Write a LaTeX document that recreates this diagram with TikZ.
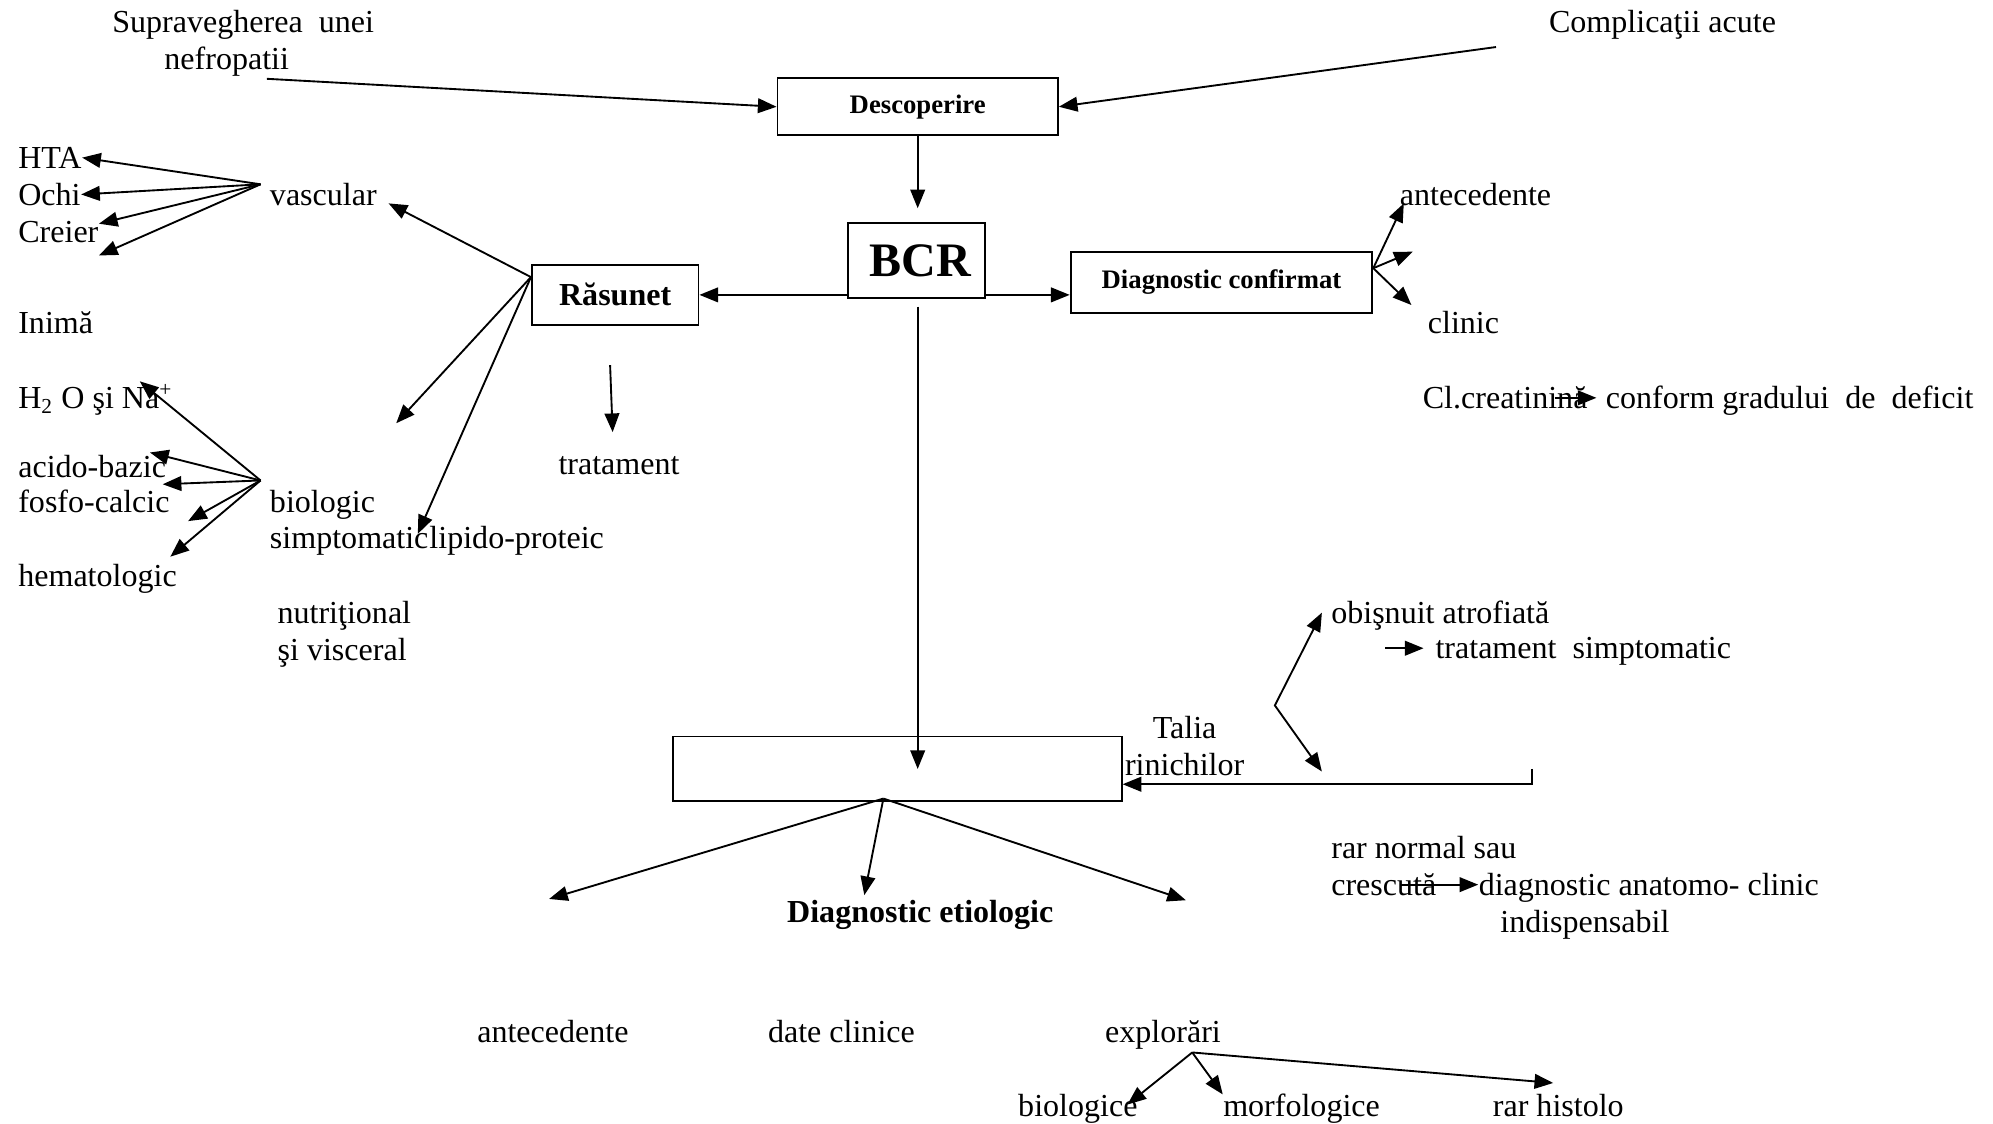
\documentclass[tikz,border=0pt]{standalone}
\usepackage{fontspec}
\setmainfont{Liberation Serif}
\usetikzlibrary{arrows.meta, positioning, calc}

\begin{document}
\begin{tikzpicture}[x=0.476pt, y=-0.476pt,
        txt/.style={font=\fontsize{12}{13.8}\selectfont, inner sep=0pt, text height=10pt, text depth=2pt},
        box/.style={draw, line width=0.7pt, inner sep=0pt, align=center},
        arr/.style={-{Triangle[length=7pt, width=5.5pt]}, line width=0.7pt},
        biarr/.style={{Triangle[length=7pt, width=5.5pt]}-{Triangle[length=7pt, width=5.5pt]}, line width=0.7pt}]
        \useasboundingbox (0,0) rectangle (1568,884);

        % Boxes
        \node[box, minimum width=105pt, minimum height=21.4pt, font=\fontsize{10}{12}\selectfont\bfseries] (desc) at (722,84) {Descoperire};
        \node[box, minimum width=51.4pt, minimum height=28pt, font=\fontsize{18}{20}\selectfont\bfseries] (bcr) at (721,205) {\,BCR};
        \node[box, minimum width=62.4pt, minimum height=22.4pt, font=\fontsize{12}{14}\selectfont\bfseries] (ras) at (484,232) {Răsunet};
        \node[box, minimum width=113pt, minimum height=22.8pt, font=\fontsize{10}{12}\selectfont\bfseries] (dc) at (961,222) {Diagnostic confirmat};
        \node[box, minimum width=168pt, minimum height=24.3pt] (eti) at (706,605) {};

        % Top sources
        \node[txt, anchor=west, align=left, text height=, text depth=] (supra) at (88,34) {Supravegherea~ unei\\\hspace*{19.5pt}nefropatii};
        \node[txt] (compl) at (1308,17) {Complicaţii acute};

        % Left column
        \node[txt, anchor=west] (hta) at (14,124) {HTA};
        \node[txt, anchor=west] (ochi) at (14,153) {Ochi};
        \node[txt, anchor=west] (creier) at (14,182) {Creier};
        \node[txt, anchor=west] (inima) at (14,254) {Inimă};
        \node[txt, anchor=west] (h2o) at (14,313) {H\textsubscript{2} O şi Na\textsuperscript{+}};
        \node[txt, anchor=west] (acido) at (14,367) {acido-bazic};
        \node[txt, anchor=west] (fosfo) at (14,395) {fosfo-calcic};
        \node[txt, anchor=west] (hema) at (14,453) {hematologic};
        \node[txt, anchor=west] (vascular) at (212,153) {vascular};
        \node[txt, anchor=west] (biologic) at (212,395) {biologic};
        \node[txt, anchor=west] (simpt) at (212,423) {simptomatic};
        \node[txt, right=0pt of simpt] (lipido) {lipido-proteic};
        \node[txt, anchor=west, align=left, text height=, text depth=] (nutr) at (218,499) {nutriţional\\şi visceral};
        \node[txt] (trat) at (487,365) {tratament};

        % Right column
        \node[txt, anchor=west] (antec1) at (1101,153) {antecedente};
        \node[txt, anchor=west] (clinic) at (1123,254) {clinic};
        \node[txt, anchor=west] (creat) at (1119,313) {Cl.creatinină};
        \node[txt, anchor=west] (conform) at (1263,313) {conform gradului~ de~ deficit};
        \node[txt, anchor=west] (obis) at (1047,482) {obişnuit atrofiată};
        \node[txt, anchor=west] (tsimp) at (1129,510) {tratament~ simptomatic};
        \node[txt, align=center, text height=, text depth=] (talia) at (932,587) {Talia\\rinichilor};
        \node[txt, anchor=west] (rarn) at (1047,667) {rar normal sau};
        \node[txt, anchor=west] (cresc) at (1047,696) {crescută};
        \node[txt, anchor=west] (danat) at (1163,696) {diagnostic anatomo- clinic};
        \node[txt, anchor=west] (indisp) at (1180,725) {indispensabil};

        % Bottom
        \node[txt, font=\fontsize{12}{13.8}\selectfont\bfseries] (deti) at (724,717) {Diagnostic etiologic};
        \node[txt] (antec2) at (435,812) {antecedente};
        \node[txt] (dclin) at (662,812) {date clinice};
        \node[txt] (expl) at (915,812) {explorări};
        \node[txt] (biol) at (848,870) {biologice};
        \node[txt] (morf) at (1024,870) {morfologice};
        \node[txt] (rarh) at (1226,870) {rar histolo};

        % Descoperire and BCR
        \coordinate (supraend) at (210,62);
        \coordinate (complend) at (1177,37);
        \draw[arr] (supraend) -- (desc.west);
        \draw[arr] (complend) -- (desc.east);
        \draw[arr] (desc.south) -- ($(bcr.north)+(1,-11)$);
        \draw[arr] (bcr.west |- ras.east) -- (ras.east);
        \draw[arr] (bcr.east |- ras.east) -- (dc.west |- ras.east);
        \draw[arr] ($(bcr.south)+(1,6)$) -- ($(bcr.south |- eti.center)+(1,0)$);

        % Diagnostic confirmat fan
        \coordinate (dcfan) at ($(dc.east)+(0,-11)$);
        \draw[arr] (dcfan) -- ++(24,-51);
        \draw[arr] (dcfan) -- ++(31,-13);
        \draw[arr] (dcfan) -- ++(30,29);
        \draw[arr] ($(creat.east)+(-26,0)$) -- ($(conform.west)+(-7,0)$);

        % Rasunet fan
        \coordinate (rasfan) at ($(ras.west)+(0,-14)$);
        \draw[arr] (rasfan) -- ++(-112,-58);
        \draw[arr] (rasfan) -- ++(-106,115);
        \draw[arr] (rasfan) -- ++(-89,202);
        \draw[arr] ($(ras.south)+(-4,31)$) -- ($(trat.north)+(-5,-12)$);

        % vascular fan
        \coordinate (vasfan) at ($(vascular.west)+(-7,-8)$);
        \draw[arr] (vasfan) -- (hta.east);
        \draw[arr] (vasfan) -- (ochi.east);
        \draw[arr] (vasfan) -- ($(creier.east)+(0,-6)$);
        \draw[arr] (vasfan) -- ($(creier.east)+(0,19)$);

        % biologic fan
        \coordinate (biofan) at ($(biologic.west)+(-7,-17)$);
        \draw[arr] (biofan) -- ++(-95,-78);
        \draw[arr] (biofan) -- ++(-87,-22);
        \draw[arr] (biofan) -- ++(-77,3);
        \draw[arr] (biofan) -- ++(-57,32);
        \draw[arr] (biofan) -- ++(-71,60);

        % Talia rinichilor
        \coordinate (zig) at (1003,555);
        \draw[biarr] ($(obis.west)+(-7,0)$) -- (zig) -- ++(37,52);
        \draw[arr] ($(tsimp.west)+(-39,0)$) -- ($(tsimp.west)+(-9,0)$);
        \coordinate (talcorner) at (1205,617);
        \draw[arr] ($(talcorner)+(0,-12)$) -- (talcorner) -- (talcorner -| eti.east);
        \draw[arr] ($(cresc.east)+(-29,0)$) -- (danat.west);

        % Diagnostic etiologic fan
        \coordinate (etifan) at ($(eti.south)+(-11,-3)$);
        \draw[arr] (etifan) -- ++(-263,79);
        \draw[arr] (etifan) -- ++(-15,76);
        \draw[arr] (etifan) -- ++(238,80);

        % explorari fan
        \coordinate (explfan) at ($(expl.south)+(23,3)$);
        \draw[arr] (explfan) -- ++(-51,41);
        \draw[arr] (explfan) -- ++(24,33);
        \draw[arr] (explfan) -- ++(284,24);
    \end{tikzpicture}
\end{document}
